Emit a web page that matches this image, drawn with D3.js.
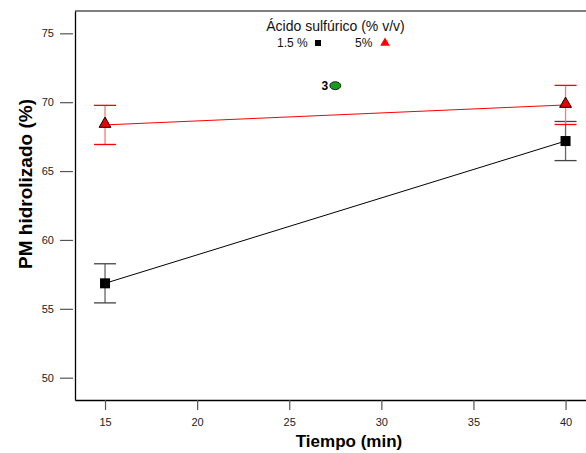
<!DOCTYPE html>
<html><head><meta charset="utf-8">
<script src="https://cdn.jsdelivr.net/npm/d3@7"></script>
<style>
body{margin:0;background:#fff;}
svg{display:block;font-family:"Liberation Sans",Arial,sans-serif;}
</style></head>
<body>
<svg id="c" width="586" height="453"></svg>
<script>
const tiempo = [15, 40];
const acido15 = [56.85, 67.18];
const acido15Err = [1.42, 1.42];
const acido5 = [68.35, 69.8];
const acido5Err = [1.42, 1.42];
const centerPoint = {x: 27.5, y: 71.2, label: "3"};
const xTicks = [15, 20, 25, 30, 35, 40];
const yTicks = [50, 55, 60, 65, 70, 75];

const svg = d3.select("#c");
const mLeft = 75, mRight = 586, mTop = 11, mBottom = 400;
const x = d3.scaleLinear().domain([13.37, 41.11]).range([mLeft, mRight]);
const y = d3.scaleLinear().domain([48.38, 76.62]).range([mBottom, mTop]);

// frame lines
svg.append("line").attr("x1", mLeft).attr("x2", mRight).attr("y1", mTop).attr("y2", mTop)
  .attr("stroke", "#555").attr("stroke-width", 1.5);

// y axis
const yAxis = svg.append("g").attr("transform", `translate(${mLeft},0)`)
  .call(d3.axisLeft(y).tickValues(yTicks).tickSize(13).tickPadding(6).tickSizeOuter(0));
yAxis.select(".domain").attr("stroke", "#000").attr("stroke-width", 1.3);
yAxis.selectAll(".tick line").attr("stroke", "#555").attr("stroke-width", 1.2).attr("transform", "translate(-2,0)");
yAxis.selectAll(".tick text").attr("font-size", 11).attr("fill", "#222").attr("dx", -2)
  .attr("font-family", "Liberation Sans, Arial, sans-serif");

// x axis
const xAxis = svg.append("g").attr("transform", `translate(0,${mBottom})`)
  .call(d3.axisBottom(x).tickValues(xTicks).tickSize(10).tickPadding(8).tickSizeOuter(0));
xAxis.select(".domain").attr("stroke", "#000").attr("stroke-width", 1.3);
xAxis.selectAll(".tick line").attr("stroke", "#555").attr("stroke-width", 1.2);
xAxis.selectAll(".tick text").attr("font-size", 11).attr("fill", "#222")
  .attr("font-family", "Liberation Sans, Arial, sans-serif");

// axis titles
svg.append("text").attr("x", 349).attr("y", 447).attr("text-anchor", "middle")
  .attr("font-size", 17).attr("font-weight", "bold").text("Tiempo (min)");
svg.append("text").attr("transform", "translate(32,184) rotate(-90)").attr("text-anchor", "middle")
  .attr("font-size", 19).attr("font-weight", "bold").text("PM hidrolizado (%)");

// error bars
function errorBars(vals, errs, vcol, ccol) {
  const g = svg.append("g");
  tiempo.forEach((t, i) => {
    const cx = x(t), y1 = y(vals[i] + errs[i]), y2 = y(vals[i] - errs[i]);
    g.append("line").attr("x1", cx).attr("x2", cx).attr("y1", y1).attr("y2", y2)
      .attr("stroke", vcol).attr("stroke-width", 1.3);
    [y1, y2].forEach(yy => g.append("line").attr("x1", cx - 11).attr("x2", cx + 11)
      .attr("y1", yy).attr("y2", yy).attr("stroke", ccol).attr("stroke-width", 1.3));
  });
}
errorBars(acido15, acido15Err, "#666", "#444");
errorBars(acido5, acido5Err, "#f77", "#f00");

const line = d3.line().x((d, i) => x(tiempo[i])).y(d => y(d));
svg.append("path").datum(acido15).attr("d", line).attr("fill", "none").attr("stroke", "#000").attr("stroke-width", 1);
svg.append("path").datum(acido5).attr("d", line).attr("fill", "none").attr("stroke", "#f00").attr("stroke-width", 1);

// markers
acido15.forEach((v, i) => {
  svg.append("rect").attr("x", x(tiempo[i]) - 5).attr("y", y(v) - 5).attr("width", 10).attr("height", 10)
    .attr("fill", "#000");
});
const tri = d3.symbol().type(d3.symbolTriangle).size(60);
acido5.forEach((v, i) => {
  svg.append("path").attr("d", tri()).attr("transform", `translate(${x(tiempo[i])},${y(v) - 1})`)
    .attr("fill", "#e00").attr("stroke", "#000").attr("stroke-width", 1);
});

// center point
svg.append("ellipse").attr("cx", x(centerPoint.x)).attr("cy", y(centerPoint.y)).attr("rx", 5.5).attr("ry", 4)
  .attr("fill", "#1a9a1a").attr("stroke", "#000").attr("stroke-width", 0.8);
svg.append("text").attr("x", x(centerPoint.x) - 7).attr("y", y(centerPoint.y) + 4).attr("text-anchor", "end")
  .attr("font-size", 12).attr("font-weight", "bold").text(centerPoint.label);

// legend
svg.append("text").attr("x", 335.5).attr("y", 31).attr("text-anchor", "middle")
  .attr("font-size", 14).attr("fill", "#111").text("Ácido sulfúrico (% v/v)");
svg.append("text").attr("x", 277).attr("y", 47).attr("font-size", 12).attr("fill", "#111").text("1.5 %");
svg.append("rect").attr("x", 315).attr("y", 40).attr("width", 6).attr("height", 6).attr("fill", "#000");
svg.append("text").attr("x", 355).attr("y", 47).attr("font-size", 12).attr("fill", "#111").text("5%");
svg.append("path").attr("d", d3.symbol().type(d3.symbolTriangle).size(40)()).attr("transform", "translate(385,43)")
  .attr("fill", "#f00");
</script>
</body></html>
